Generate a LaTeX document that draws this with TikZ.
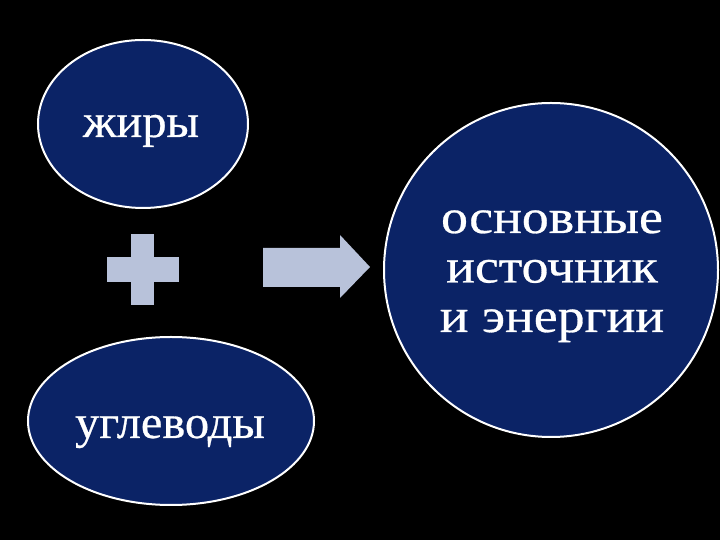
\documentclass[tikz,border=0pt]{standalone}
\usepackage{fontspec}
\setmainfont{Liberation Serif}
\newfontfamily\widefont[FakeStretch=1.12,FakeBold=0.6]{Liberation Serif}
\newfontfamily\normfont[FakeStretch=1.03,FakeBold=0.6]{Liberation Serif}
\usetikzlibrary{shapes.geometric}
\definecolor{navy}{HTML}{0B2366}
\definecolor{steel}{HTML}{B8C2DA}
\tikzset{
  blob/.style={ellipse, draw=white, line width=2pt, fill=navy, inner sep=0pt},
  lbl/.style={text=white, inner sep=0pt, font=\normfont\fontsize{47}{50}\selectfont},
  biglbl/.style={text=white, inner sep=0pt, font=\widefont\fontsize{48}{49.5}\selectfont},
  sign/.style={fill=steel, draw=none}
}
\begin{document}
\begin{tikzpicture}[x=1pt,y=1pt]
\fill[black] (0,0) rectangle (720,540);
\useasboundingbox (0,0) rectangle (720,540);
\node[blob, minimum width=210pt, minimum height=168pt] (fats) at (143,416) {};
\node[lbl, anchor=base] (fatsT) at (141,403) {жиры};
\node[blob, minimum width=286pt, minimum height=168pt] (carbs) at (171,119) {};
\node[lbl, anchor=base] (carbsT) at (170,102) {углеводы};
\node[blob, circle, minimum size=334pt] (energy) at (551,270) {};
\node[biglbl, align=center, anchor=base] (energyT) at (552,208) {основные\\источник\\и энергии};
\fill[sign] (131,235) rectangle (154,306);
\fill[sign] (107,258) rectangle (179,283);
\fill[sign] (263,253) -- (340,253) -- (340,242) -- (370,273) -- (340,305) -- (340,292) -- (263,292) -- cycle;
\end{tikzpicture}
\end{document}
